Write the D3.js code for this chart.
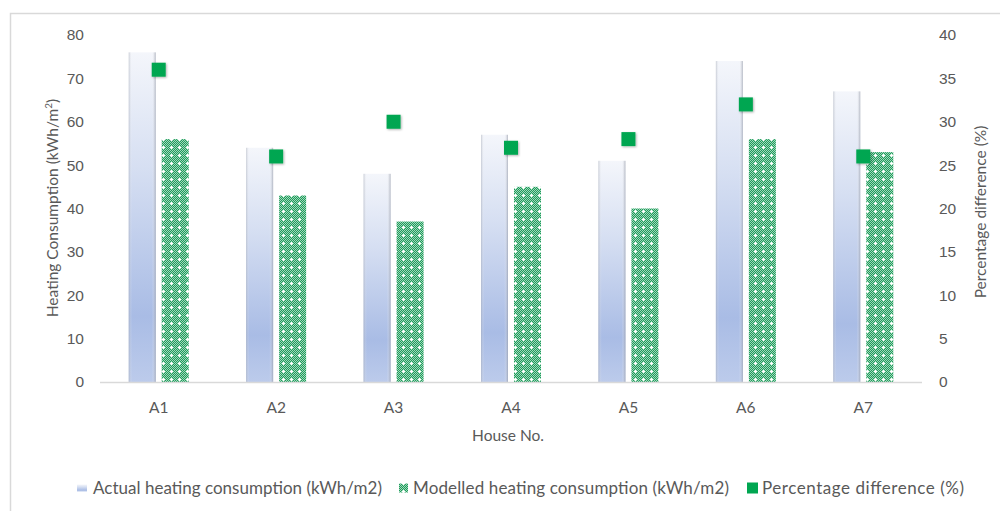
<!DOCTYPE html>
<html>
<head>
<meta charset="utf-8">
<script src="https://cdn.jsdelivr.net/npm/d3@7"></script>
<style>
  body { margin: 0; background: #fff; }
  svg { display: block; font-family: Lato, "Open Sans", sans-serif; }
</style>
</head>
<body>
<svg id="chart" width="1000" height="511"></svg>
<script>
// data
var houses = ['A1', 'A2', 'A3', 'A4', 'A5', 'A6', 'A7'];
var actual = [76, 54, 48, 57, 51, 74, 67];
var modelled = [56, 43, 37, 45, 40, 56, 53];
var pctDiff = [36, 26, 30, 27, 28, 32, 26];
var leftTicks = [0, 10, 20, 30, 40, 50, 60, 70, 80];
var rightTicks = [0, 5, 10, 15, 20, 25, 30, 35, 40];

var svg = d3.select('#chart');
var grey = '#595959';

// outer chart border
svg.append('rect')
  .attr('x', 10.5).attr('y', 13.5)
  .attr('width', 1000).attr('height', 520)
  .attr('fill', 'none').attr('stroke', '#d9d9d9').attr('stroke-width', 1.5);

var defs = svg.append('defs');

// blue-ish gradient for the actual bars
var grad = defs.append('linearGradient')
  .attr('id', 'actualGrad').attr('x1', 0).attr('y1', 0).attr('x2', 0).attr('y2', 1);
grad.append('stop').attr('offset', '0%').attr('stop-color', '#f4f6fb');
grad.append('stop').attr('offset', '35%').attr('stop-color', '#d6dff2');
grad.append('stop').attr('offset', '80%').attr('stop-color', '#a9bce5');
grad.append('stop').attr('offset', '100%').attr('stop-color', '#bccbeb');

// side shading
var side = defs.append('linearGradient')
  .attr('id', 'sideShade').attr('x1', 0).attr('y1', 0).attr('x2', 1).attr('y2', 0);
side.append('stop').attr('offset', '0%').attr('stop-color', '#9aa0ad').attr('stop-opacity', 0.5);
side.append('stop').attr('offset', '12%').attr('stop-color', '#ffffff').attr('stop-opacity', 0);
side.append('stop').attr('offset', '86%').attr('stop-color', '#ffffff').attr('stop-opacity', 0);
side.append('stop').attr('offset', '100%').attr('stop-color', '#8e94a2').attr('stop-opacity', 0.65);

// fine green checker with white crosses for modelled bars
var pat = defs.append('pattern')
  .attr('id', 'checker').attr('patternUnits', 'userSpaceOnUse')
  .attr('width', 8).attr('height', 8);
pat.append('rect').attr('width', 8).attr('height', 8).attr('fill', '#1f9a5c');
for (var i = 0; i < 8; i++) {
  for (var j = 0; j < 8; j++) {
    if ((i + j) % 2 === 0) {
      pat.append('rect').attr('x', i).attr('y', j).attr('width', 1).attr('height', 1).attr('fill', '#9fd9b9');
    }
  }
}
pat.append('rect').attr('x', 2).attr('y', 3).attr('width', 3).attr('height', 1).attr('fill', '#ffffff');
pat.append('rect').attr('x', 3).attr('y', 2).attr('width', 1).attr('height', 3).attr('fill', '#ffffff');

var shadow = defs.append('filter').attr('id', 'shadow')
  .attr('x', '-30%').attr('y', '-30%').attr('width', '170%').attr('height', '170%');
shadow.append('feDropShadow').attr('dx', 1).attr('dy', 1).attr('stdDeviation', 1.2)
  .attr('flood-color', '#000').attr('flood-opacity', 0.3);

// scales
var x = d3.scaleBand().domain(houses).range([100, 922]);
var yL = d3.scaleLinear().domain([0, 80]).range([382, 35]);
var yR = d3.scaleLinear().domain([0, 40]).range([382, 35]);
var barW = 27;

// left axis
var leftAxis = svg.append('g').attr('transform', 'translate(84,0)')
  .call(d3.axisLeft(yL).tickValues(leftTicks).tickSize(0).tickPadding(0));
leftAxis.select('.domain').remove();
leftAxis.selectAll('text').attr('fill', grey).style('font-size', '15.5px');

// right axis
var rightAxis = svg.append('g').attr('transform', 'translate(939,0)')
  .call(d3.axisRight(yR).tickValues(rightTicks).tickSize(0).tickPadding(0));
rightAxis.select('.domain').remove();
rightAxis.selectAll('text').attr('fill', grey).style('font-size', '15.5px');

// actual bars
var gA = svg.append('g');
gA.selectAll('rect.actual').data(actual).enter().append('rect')
  .attr('class', 'actual')
  .attr('x', function(d, i){ return x(houses[i]) + x.bandwidth() / 2 - 30; })
  .attr('y', function(d){ return yL(d); })
  .attr('width', barW)
  .attr('height', function(d){ return yL(0) - yL(d); })
  .attr('fill', 'url(#actualGrad)');
gA.selectAll('rect.side').data(actual).enter().append('rect')
  .attr('class', 'side')
  .attr('x', function(d, i){ return x(houses[i]) + x.bandwidth() / 2 - 30; })
  .attr('y', function(d){ return yL(d); })
  .attr('width', barW)
  .attr('height', function(d){ return yL(0) - yL(d); })
  .attr('fill', 'url(#sideShade)');

// modelled bars
svg.append('g').selectAll('rect').data(modelled).enter().append('rect')
  .attr('x', function(d, i){ return x(houses[i]) + x.bandwidth() / 2 + 3; })
  .attr('y', function(d){ return yL(d); })
  .attr('width', barW)
  .attr('height', function(d){ return yL(0) - yL(d); })
  .attr('fill', 'url(#checker)');

// x axis line
svg.append('line')
  .attr('x1', 100).attr('x2', 922).attr('y1', 382.5).attr('y2', 382.5)
  .attr('stroke', '#d9d9d9').attr('stroke-width', 1.5);

// x tick labels
svg.append('g').selectAll('text').data(houses).enter().append('text')
  .attr('x', function(d){ return x(d) + x.bandwidth() / 2; })
  .attr('y', 413)
  .attr('text-anchor', 'middle')
  .attr('fill', grey).style('font-size', '15.5px')
  .text(function(d){ return d; });

// percentage markers
var m = 14;
svg.append('g').selectAll('rect').data(pctDiff).enter().append('rect')
  .attr('x', function(d, i){ return x(houses[i]) + x.bandwidth() / 2 - m / 2; })
  .attr('y', function(d){ return yR(d) - m / 2; })
  .attr('width', m).attr('height', m)
  .attr('fill', '#00a651')
  .attr('filter', 'url(#shadow)');

// axis titles
svg.append('text')
  .attr('transform', 'translate(58,208) rotate(-90)')
  .attr('text-anchor', 'middle').attr('fill', grey).style('font-size', '15.5px')
  .html('Heating Consumption (kWh/m<tspan dy="-6" font-size="10">2</tspan><tspan dy="6">)</tspan>');
svg.append('text')
  .attr('transform', 'translate(986,212) rotate(-90)')
  .attr('text-anchor', 'middle').attr('fill', grey).style('font-size', '15.5px')
  .text('Percentage difference (%)');
svg.append('text')
  .attr('x', 508).attr('y', 441)
  .attr('text-anchor', 'middle').attr('fill', grey).style('font-size', '15.5px')
  .text('House No.');

// legend
var legend = [
  { label: 'Actual heating consumption (kWh/m2)', x: 77, tx: 93, tw: 289, fill: 'url(#actualGrad)', w: 10, h: 7 },
  { label: 'Modelled heating consumption (kWh/m2)', x: 399, tx: 413, tw: 316, fill: 'url(#checker)', w: 9, h: 9 },
  { label: 'Percentage difference (%)', x: 747, tx: 762, tw: 202, fill: '#00a651', w: 11, h: 11 }
];
var lg = svg.append('g').selectAll('g').data(legend).enter().append('g');
lg.append('rect')
  .attr('x', function(d){ return d.x; })
  .attr('y', function(d){ return 488 - d.h / 2; })
  .attr('width', function(d){ return d.w; })
  .attr('height', function(d){ return d.h; })
  .attr('fill', function(d){ return d.fill; });
lg.append('text')
  .attr('x', function(d){ return d.tx; })
  .attr('y', 494)
  .attr('textLength', function(d){ return d.tw; })
  .attr('lengthAdjust', 'spacing')
  .attr('fill', grey).style('font-size', '17px')
  .text(function(d){ return d.label; });
</script>
</body>
</html>
